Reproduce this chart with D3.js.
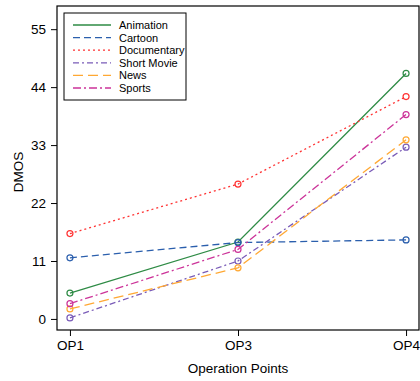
<!DOCTYPE html>
<html>
<head>
<meta charset="utf-8">
<script src="https://cdn.jsdelivr.net/npm/d3@7"></script>
<style>
body { margin: 0; background: #fff; }
text { font-family: "Liberation Sans", Arial, sans-serif; fill: #000; }
</style>
</head>
<body>
<div id="chart"></div>
<script>
const points = ["OP1", "OP3", "OP4"];
const yTicks = [0, 11, 22, 33, 44, 55];

const animation = [4.9, 14.6, 46.6];
const cartoon = [11.6, 14.5, 15.0];
const documentary = [16.2, 25.6, 42.2];
const shortMovie = [0.2, 11.0, 32.6];
const news = [1.9, 9.7, 34.0];
const sports = [2.9, 13.2, 38.8];

const seriesList = [
  { name: "Animation", values: animation, color: "#2e8b45", dash: null },
  { name: "Cartoon", values: cartoon, color: "#2b5fad", dash: "7,4" },
  { name: "Documentary", values: documentary, color: "#ff3333", dash: "2,3" },
  { name: "Short Movie", values: shortMovie, color: "#7a5cb8", dash: "6,3,2,3" },
  { name: "News", values: news, color: "#ffa833", dash: "10,5" },
  { name: "Sports", values: sports, color: "#cc3399", dash: "8,3,2,3" }
];

const width = 420, height = 381;
const plotLeft = 57, plotRight = 419, plotTop = 6, plotBottom = 330;

const svg = d3.select("#chart").append("svg")
  .attr("width", width)
  .attr("height", height);

const x = d3.scaleLinear().domain([0.923, 3.077]).range([plotLeft, plotRight]);
const y = d3.scaleLinear().domain([-2.1, 59.4]).range([plotBottom, plotTop]);

// frame
svg.append("rect")
  .attr("x", plotLeft).attr("y", plotTop)
  .attr("width", plotRight - plotLeft).attr("height", plotBottom - plotTop)
  .attr("fill", "none").attr("stroke", "#000").attr("stroke-width", 1.2);

// y axis
const yAxis = svg.append("g")
  .attr("transform", `translate(${plotLeft},0)`)
  .call(d3.axisLeft(y).tickValues(yTicks).tickSize(6).tickPadding(5));
yAxis.select(".domain").remove();
yAxis.selectAll("text").style("font-size", "13.5px").style("font-family", "Liberation Sans, Arial, sans-serif");

// x axis
const xAxis = svg.append("g")
  .attr("transform", `translate(0,${plotBottom})`)
  .call(d3.axisBottom(x).tickValues([1, 2, 3]).tickFormat((d, i) => points[i]).tickSize(6).tickPadding(4));
xAxis.select(".domain").remove();
xAxis.selectAll("text").style("font-size", "13.5px").style("font-family", "Liberation Sans, Arial, sans-serif");

svg.append("text")
  .attr("x", 238)
  .attr("y", 373)
  .attr("text-anchor", "middle")
  .style("font-size", "13.5px")
  .text("Operation Points");

svg.append("text")
  .attr("transform", "translate(23,172) rotate(-90)")
  .attr("text-anchor", "middle")
  .style("font-size", "13.5px")
  .text("DMOS");

const line = d3.line()
  .x((d, i) => x(i + 1))
  .y(d => y(d));

const groups = svg.selectAll("g.series").data(seriesList).join("g").attr("class", "series");

groups.append("path")
  .attr("d", d => line(d.values))
  .attr("fill", "none")
  .attr("stroke", d => d.color)
  .attr("stroke-width", 1.3)
  .attr("stroke-dasharray", d => d.dash);

groups.selectAll("circle")
  .data(d => d.values.map(v => ({ v, color: d.color })))
  .join("circle")
  .attr("cx", (d, i) => x(i + 1))
  .attr("cy", d => y(d.v))
  .attr("r", 3)
  .attr("fill", "none")
  .attr("stroke", d => d.color)
  .attr("stroke-width", 1.2);

// legend
const legend = svg.append("g");
legend.append("rect")
  .attr("x", 64).attr("y", 13)
  .attr("width", 122).attr("height", 87)
  .attr("fill", "#fff").attr("stroke", "#000").attr("stroke-width", 1);

const legendRows = legend.selectAll("g").data(seriesList).join("g")
  .attr("transform", (d, i) => `translate(0,${25 + i * 12.6})`);

legendRows.append("line")
  .attr("x1", 73).attr("x2", 111)
  .attr("stroke", d => d.color)
  .attr("stroke-width", 1.3)
  .attr("stroke-dasharray", d => d.dash);

legendRows.append("text")
  .attr("x", 119)
  .attr("y", 4)
  .style("font-size", "11px")
  .text(d => d.name);
</script>
</body>
</html>
